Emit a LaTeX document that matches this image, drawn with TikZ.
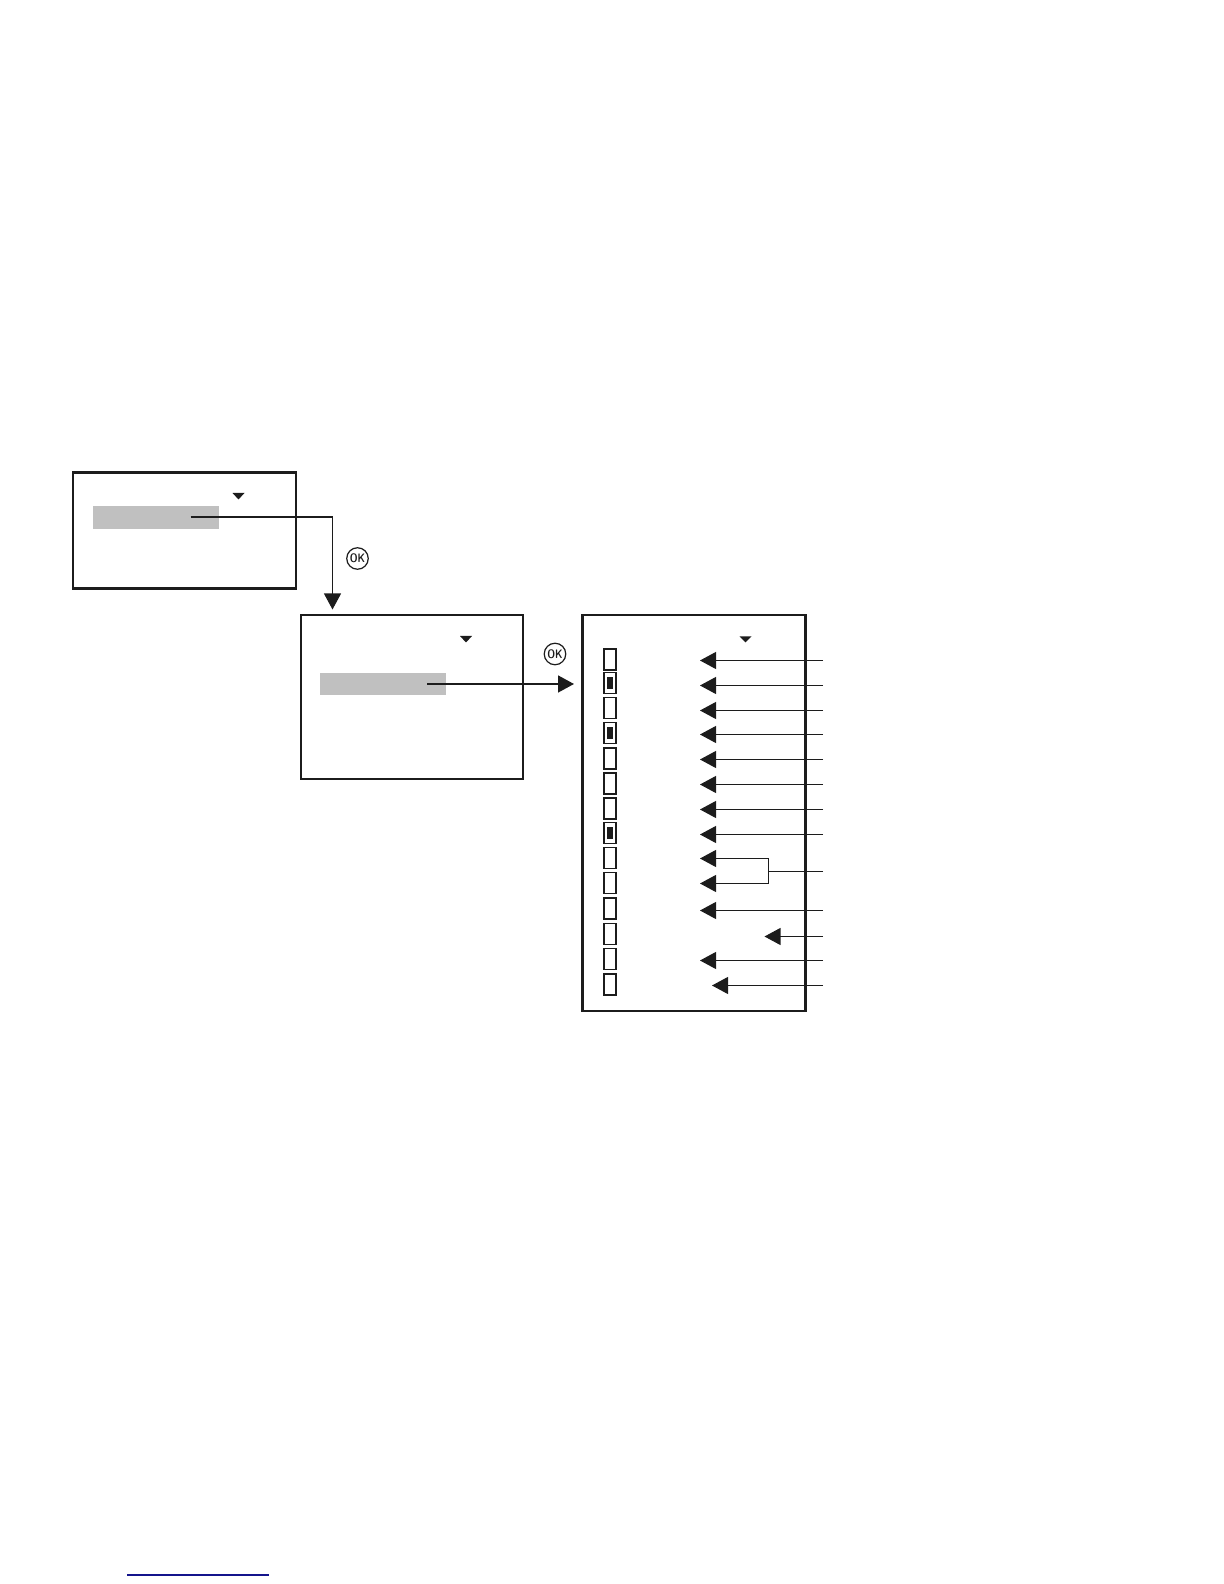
\documentclass[tikz,border=0pt]{standalone}
\definecolor{menuink}{RGB}{28,28,28}
\definecolor{menugray}{RGB}{192,192,192}
\definecolor{menublue}{RGB}{20,20,140}
\usetikzlibrary{arrows.meta,positioning,calc}

\begin{document}
\begin{tikzpicture}[
  frame/.style={draw=menuink,line width=1.3pt,minimum width=4.45cm,inner sep=0pt},
  band/.style={fill=menugray,minimum width=2.52cm,minimum height=0.45cm,inner sep=0pt},
  okbtn/.style={draw=menuink,circle,line width=0.7pt,minimum size=0.43cm,inner sep=0pt,text=menuink,font=\fontsize{7}{7}\sffamily\bfseries},
  chkbox/.style={draw=menuink,line width=1pt,minimum width=0.25cm,minimum height=0.42cm,inner sep=0pt},
  chkfill/.style={fill=menuink,minimum width=0.12cm,minimum height=0.23cm,inner sep=0pt},
  arr/.style={-{Triangle[length=3.2mm,width=3.4mm]},line width=0.6pt,menuink},
  arrbig/.style={-{Triangle[length=3.2mm,width=3.4mm]},line width=0.9pt,menuink},
  lead/.style={line width=0.6pt,menuink}]
  \useasboundingbox (0,0) rectangle (24.48,31.68);
  % Left menu
  \node[frame,minimum height=2.32cm] (menua) at (3.69,21.07) {};
  \node[band] (banda) at (3.12,21.33) {};
  \fill[menuink] (4.65,21.82) -- ++(0.24,0) -- ++(-0.12,-0.13) -- cycle;
  \node[okbtn] (oka) at (7.15,20.51) {\scalebox{0.8}[1]{OK}};
  % Middle menu
  \node[frame,line width=0.95pt,minimum height=3.27cm] (menub) at (8.24,17.74) {};
  \node[band] (bandb) at (7.66,18) {};
  \fill[menuink] (9.2,18.96) -- ++(0.24,0) -- ++(-0.12,-0.13) -- cycle;
  \node[okbtn] (okb) at (11.1,18.6) {\scalebox{0.8}[1]{OK}};
  % Links between menus
  \coordinate (froma) at (3.81,21.34);
  \coordinate (toa) at (6.65,19.49);
  \draw[arr] (froma) -| (toa);
  \coordinate (fromb) at (8.54,18);
  \coordinate (tob) at (11.48,18);
  \draw[arrbig] (fromb) -- (tob);
  % Right menu
  \node[frame,line width=1.2pt,minimum width=4.46cm,minimum height=7.92cm] (menuc) at (13.88,15.42) {};
  \fill[menuink] (14.79,18.95) -- ++(0.24,0) -- ++(-0.12,-0.12) -- cycle;
  % Check boxes
  \node[chkbox] (chk1) at (12.2,18.49) {};
  \node[chkbox] (chk2) at (12.2,18.02) {};
  \node[chkfill] (dot2) at (chk2) {};
  \node[chkbox] (chk3) at (12.2,17.52) {};
  \node[chkbox] (chk4) at (12.2,17.02) {};
  \node[chkfill] (dot4) at (chk4) {};
  \node[chkbox] (chk5) at (12.2,16.51) {};
  \node[chkbox] (chk6) at (12.2,16.01) {};
  \node[chkbox] (chk7) at (12.2,15.51) {};
  \node[chkbox] (chk8) at (12.2,15.02) {};
  \node[chkfill] (dot8) at (chk8) {};
  \node[chkbox] (chk9) at (12.2,14.52) {};
  \node[chkbox] (chk10) at (12.2,14.02) {};
  \node[chkbox] (chk11) at (12.2,13.51) {};
  \node[chkbox] (chk12) at (12.2,13) {};
  \node[chkbox] (chk13) at (12.2,12.5) {};
  \node[chkbox] (chk14) at (12.2,11.99) {};
  % Callouts
  \coordinate (end1) at (16.46,18.47); \coordinate (tip1) at (14,18.47); \draw[arr] (end1) -- (tip1);
  \coordinate (end2) at (16.46,17.97); \coordinate (tip2) at (14,17.97); \draw[arr] (end2) -- (tip2);
  \coordinate (end3) at (16.46,17.47); \coordinate (tip3) at (14,17.47); \draw[arr] (end3) -- (tip3);
  \coordinate (end4) at (16.46,16.99); \coordinate (tip4) at (14,16.99); \draw[arr] (end4) -- (tip4);
  \coordinate (end5) at (16.46,16.49); \coordinate (tip5) at (14,16.49); \draw[arr] (end5) -- (tip5);
  \coordinate (end6) at (16.46,15.99); \coordinate (tip6) at (14,15.99); \draw[arr] (end6) -- (tip6);
  \coordinate (end7) at (16.46,15.49); \coordinate (tip7) at (14,15.49); \draw[arr] (end7) -- (tip7);
  \coordinate (end8) at (16.46,14.99); \coordinate (tip8) at (14,14.99); \draw[arr] (end8) -- (tip8);
  \coordinate (end9) at (16.46,14.25); \coordinate (fork) at (15.37,14.25); \draw[lead] (end9) -- (fork);
  \coordinate (tip9) at (14,14.51); \draw[arr] (fork) |- (tip9);
  \coordinate (tip10) at (14,14.01); \draw[arr] (fork) |- (tip10);
  \coordinate (end11) at (16.46,13.47); \coordinate (tip11) at (14,13.47); \draw[arr] (end11) -- (tip11);
  \coordinate (end12) at (16.46,12.95); \coordinate (tip12) at (15.29,12.95); \draw[arr] (end12) -- (tip12);
  \coordinate (end13) at (16.46,12.47); \coordinate (tip13) at (14,12.47); \draw[arr] (end13) -- (tip13);
  \coordinate (end14) at (16.46,11.97); \coordinate (tip14) at (14.24,11.97); \draw[arr] (end14) -- (tip14);
  % Footer rule
  \coordinate (rulea) at (2.54,0.18);
  \coordinate (ruleb) at (5.38,0.18);
  \draw[menublue,line width=0.6pt] (rulea) -- (ruleb);
\end{tikzpicture}
\end{document}
